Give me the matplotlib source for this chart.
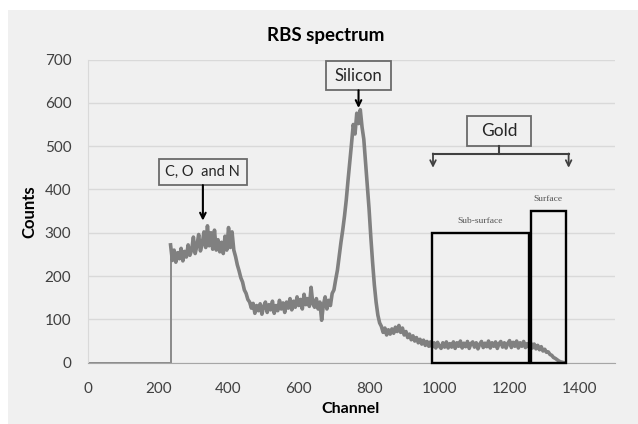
import matplotlib
matplotlib.use("Agg")
import matplotlib.pyplot as plt
from matplotlib.patches import Rectangle

plt.rcParams['font.family'] = ['Lato', 'DejaVu Sans']

# spectrum, one reading every 5 channels from 235 to 1355
channels = list(range(235, 1360, 5))
counts = [
    272, 236, 260, 232, 254, 240, 264, 235, 257, 244, 272, 248, 260, 290, 252, 270, 296, 258, 274, 302,
    266, 316, 270, 300, 262, 306, 260, 284, 256, 278, 252, 292, 260, 312, 266, 302, 260, 245, 226, 212,
    196, 186, 168, 160, 146, 140, 126, 137, 114, 132, 120, 136, 112, 130, 140, 116, 134, 122, 142, 114,
    132, 120, 144, 124, 138, 116, 140, 126, 148, 122, 142, 128, 152, 132, 146, 124, 158, 134, 148, 130,
    174, 136, 128, 148, 124, 140, 98, 134, 152, 124, 144, 132, 160, 168, 192, 214, 246, 278, 306, 338,
    375, 420, 462, 505, 550, 528, 576, 552, 584, 544, 516, 462, 410, 355, 290, 232, 180, 140, 110, 92,
    84, 70, 80, 64, 76, 66, 78, 68, 82, 72, 86, 70, 80, 64, 72, 58, 66, 53, 62, 50,
    58, 46, 54, 43, 52, 40, 49, 38, 48, 36, 46, 34, 47, 38, 33, 46, 36, 48, 34, 44,
    36, 48, 33, 46, 38, 50, 34, 45, 37, 49, 33, 44, 48, 36, 46, 32, 43, 49, 35, 45,
    37, 50, 34, 46, 38, 48, 33, 44, 49, 36, 46, 34, 45, 51, 35, 47, 38, 50, 34, 46,
    38, 49, 35, 44, 36, 46, 34, 43, 32, 40, 30, 37, 27, 31, 24, 25, 19, 17, 12, 10,
    7, 4, 2, 1, 0,
]
baseline_channels = [0, 235]
baseline_counts = [0, 0]

# gold regions
region_names = ['Sub-surface', 'Surface']
region_start = [980, 1260]
region_end = [1255, 1360]
region_top = [300, 350]

fig = plt.figure(figsize=(6.38, 4.24), dpi=100)
fig.patches.append(Rectangle((8 / 638, 0), 1, 414 / 424, transform=fig.transFigure,
                             facecolor='#f0f0f0', edgecolor='none', zorder=-10))
ax = fig.add_axes([88 / 638, 1 - 362.7 / 424, 527 / 638, 303.2 / 424])
ax.set_facecolor('none')

ax.plot(baseline_channels + channels[:1], baseline_counts + counts[:1], color='#8a8a8a', lw=1.4)
ax.plot(channels, counts, color='#808080', lw=2.6)

ax.set_xlim(0, 1500)
ax.set_ylim(0, 700)
ax.set_xticks(range(0, 1500, 200))
ax.set_yticks(range(0, 701, 100))
ax.grid(axis='y', color='#d9d9d9', lw=1)
ax.set_axisbelow(True)
for s in ['top', 'right']:
    ax.spines[s].set_visible(False)
ax.spines['left'].set_color('#d9d9d9')
ax.spines['bottom'].set_color('#a6a6a6')
ax.tick_params(length=0, labelsize=11, labelcolor='#404040')
ax.tick_params(axis='y', pad=12)
ax.tick_params(axis='x', pad=14)

fig.text(326 / 638, 1 - 35 / 424, 'RBS spectrum', ha='center', va='center',
         fontsize=13.5, fontweight='bold')
fig.text(29 / 638, 1 - 212 / 424, 'Counts', ha='center', va='center', rotation=90,
         fontsize=12, fontweight='bold')
fig.text(350 / 638, 1 - 409 / 424, 'Channel', ha='center', va='center',
         fontsize=11.5, fontweight='bold')

# label boxes
def label_box(x0, x1, y0, y1, text, size):
    ax.add_patch(Rectangle((x0, y0), x1 - x0, y1 - y0, facecolor='none',
                           edgecolor='#6a6a6a', lw=1.3, clip_on=False))
    ax.text((x0 + x1) / 2, (y0 + y1) / 2, text, ha='center', va='center',
            fontsize=size, color='#262626')

label_box(202, 452, 410, 470, 'C, O  and N', 10.5)
label_box(677, 862, 629, 696, 'Silicon', 12)
label_box(1079, 1261, 500, 569, 'Gold', 12.5)

arrow = dict(arrowstyle='->', color='black', lw=1.5, shrinkA=0, shrinkB=0)
ax.annotate('', xy=(327, 328), xytext=(327, 410), arrowprops=arrow)
ax.annotate('', xy=(770, 588), xytext=(770, 629), arrowprops=arrow)

# gold bracket
ax.plot([1170, 1170], [500, 482], color='#404040', lw=1.5)
ax.plot([982, 1368], [482, 482], color='#404040', lw=1.5)
garrow = dict(arrowstyle='->', color='#404040', lw=1.3, shrinkA=0, shrinkB=0)
ax.annotate('', xy=(982, 450), xytext=(982, 483), arrowprops=garrow)
ax.annotate('', xy=(1368, 450), xytext=(1368, 483), arrowprops=garrow)

for name, x0, x1, top in zip(region_names, region_start, region_end, region_top):
    ax.add_patch(Rectangle((x0, 0), x1 - x0, top, facecolor='none',
                           edgecolor='black', lw=1.7, clip_on=False, zorder=3))
    ax.text((x0 + x1) / 2, top + 18, name, ha='center', va='bottom', fontsize=6.8,
            family=['Liberation Serif', 'DejaVu Serif'], color='#555555')

fig.savefig('out.png', dpi=100, facecolor='white')
